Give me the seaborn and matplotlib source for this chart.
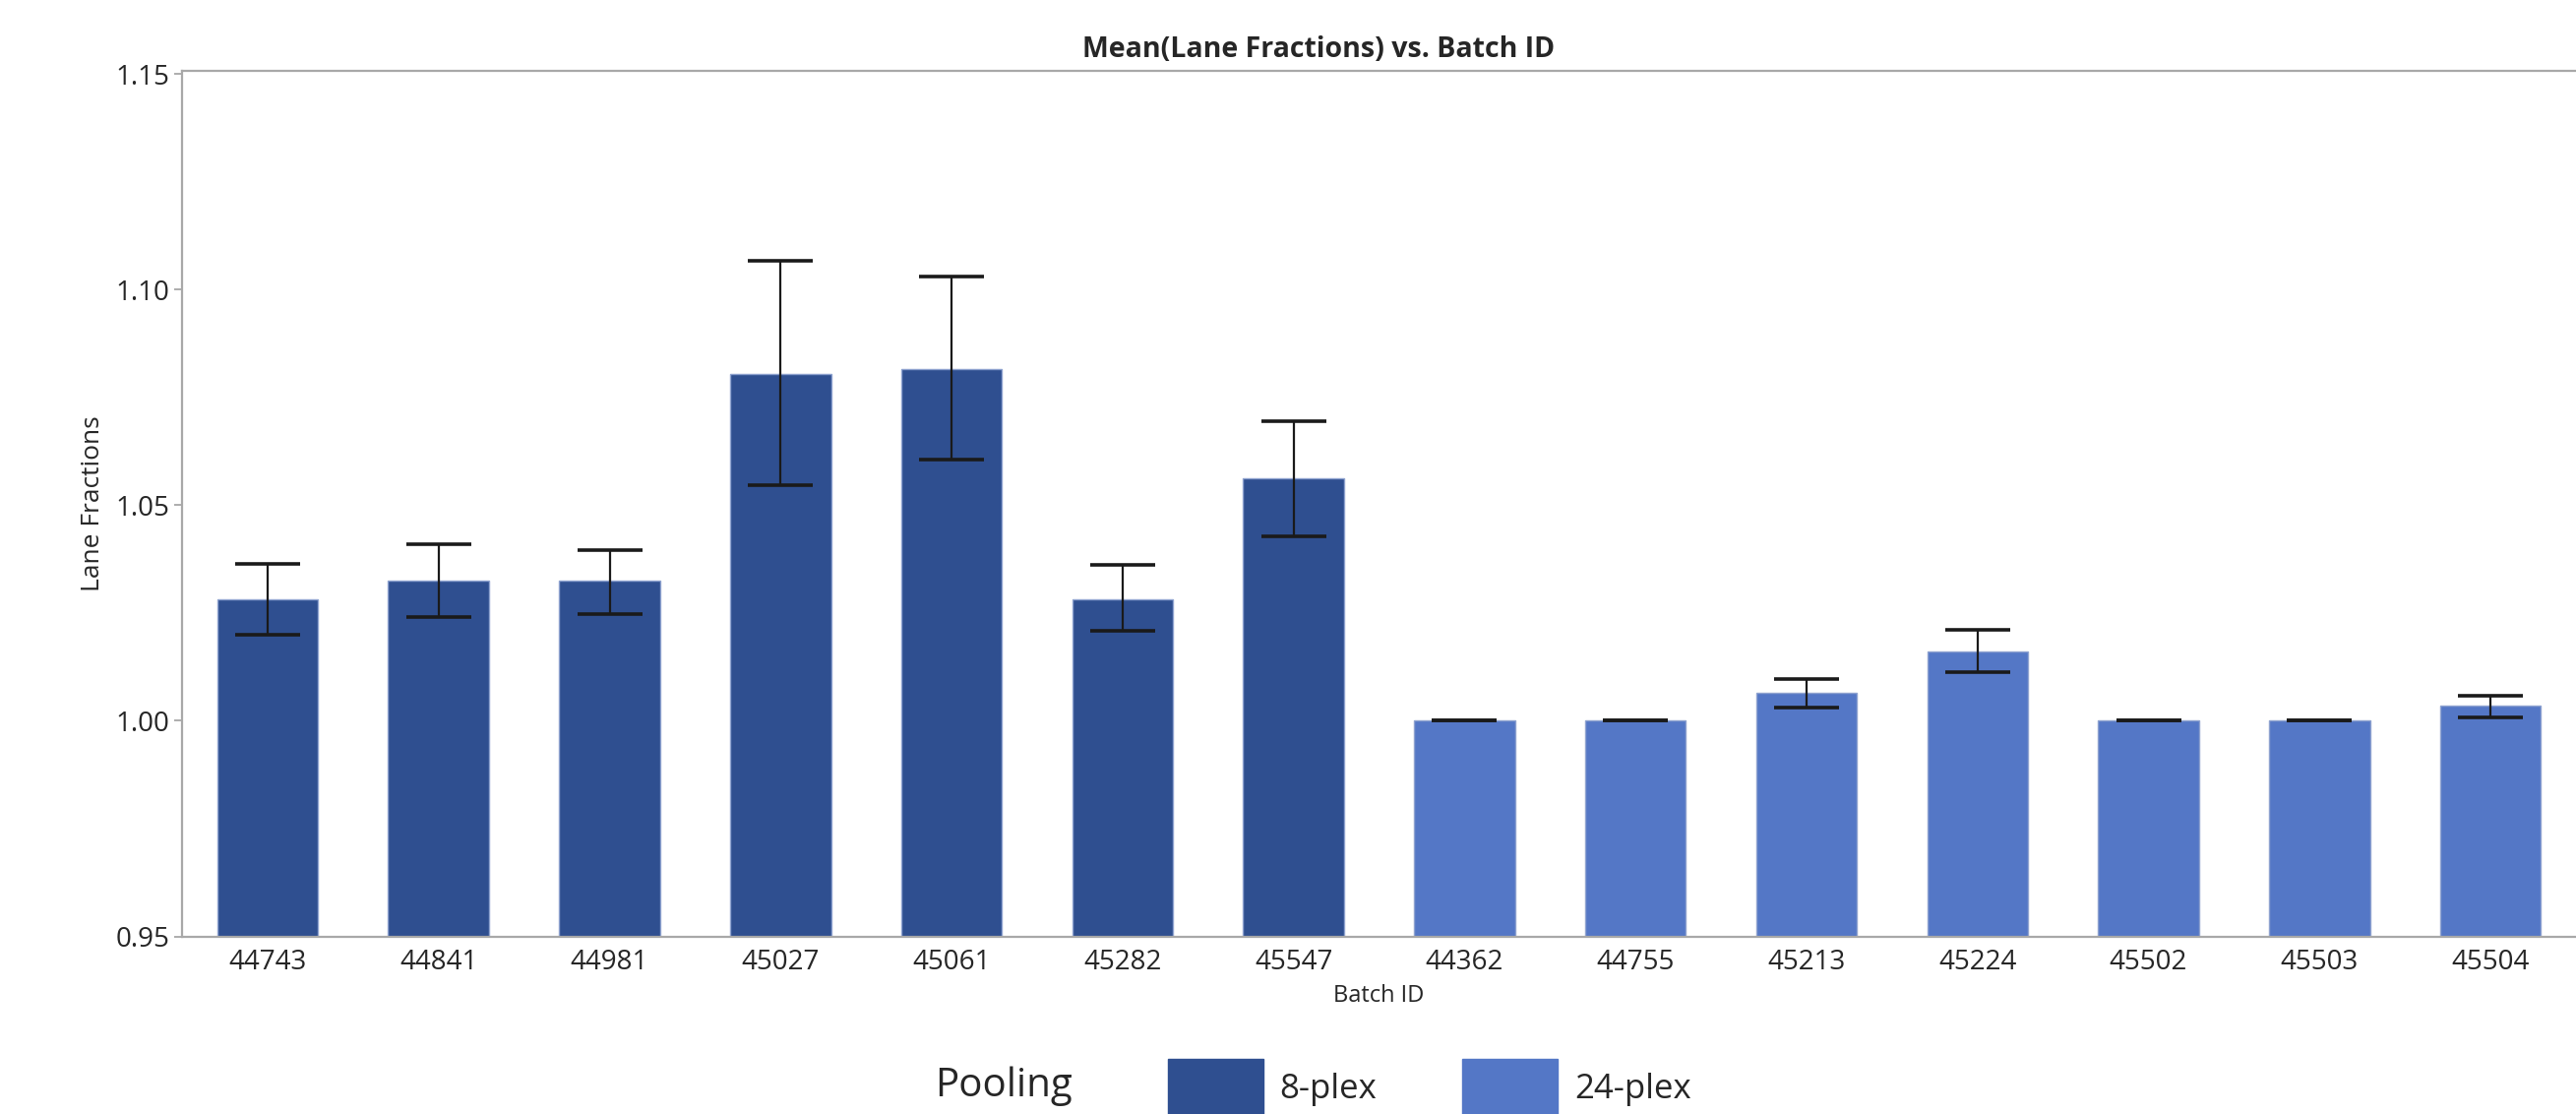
import numpy as np
import pandas as pd
import matplotlib
matplotlib.use("Agg")
import matplotlib.pyplot as plt
import matplotlib.patches as mpatches
import seaborn as sns

# values
batch_ids = ["44743", "44841", "44981", "45027", "45061", "45282", "45547",
             "44362", "44755", "45213", "45224", "45502", "45503", "45504"]
pooling = ["8-plex"] * 7 + ["24-plex"] * 7
mean_frac = [1.0281, 1.0325, 1.0325, 1.0805, 1.0815, 1.0281, 1.0562,
             1.0000, 1.0000, 1.0066, 1.0160, 1.0000, 1.0000, 1.0035]
err_low = [1.0200, 1.0240, 1.0247, 1.0547, 1.0606, 1.0208, 1.0427,
           1.0000, 1.0000, 1.0030, 1.0113, 1.0000, 1.0000, 1.0007]
err_high = [1.0365, 1.0410, 1.0396, 1.1068, 1.1030, 1.0362, 1.0695,
            1.0000, 1.0000, 1.0098, 1.0210, 1.0000, 1.0000, 1.0058]

pool_levels = ["8-plex", "24-plex"]
pool_colors = {"8-plex": "#2F4F90", "24-plex": "#5477C6"}

df = pd.DataFrame({"Batch ID": batch_ids, "Pooling": pooling, "Lane Fractions": mean_frac})

sns.set_theme(style="white")
plt.rcParams["font.family"] = ["Open Sans", "DejaVu Sans"]

fig = plt.figure(figsize=(26.18, 11.32), dpi=100)
ax = fig.add_axes([0.0707, 0.1594, 0.9293, 0.7772])

sns.barplot(data=df, x="Batch ID", y="Lane Fractions", hue="Pooling",
            hue_order=pool_levels, palette=pool_colors, dodge=False,
            width=0.59, errorbar=None, legend=False, saturation=1,
            edgecolor="#8fa3d0", linewidth=1, ax=ax)

x = np.arange(len(batch_ids))
mean_arr = np.array(mean_frac)
yerr = [mean_arr - np.array(err_low), np.array(err_high) - mean_arr]
ax.errorbar(x, mean_arr, yerr=yerr, fmt="none", ecolor="#1a1a1a",
            elinewidth=1.6, capsize=24, capthick=2.6, zorder=5)

ax.set_xlim(-0.5, len(batch_ids) - 0.5)
ax.set_ylim(0.95, 1.1508)
ax.set_yticks([0.95, 1.00, 1.05, 1.10, 1.15])
ax.set_yticklabels(["0.95", "1.00", "1.05", "1.10", "1.15"])
ax.tick_params(axis="y", direction="out", length=6, width=1.2, color="#a0a0a0",
               labelsize=20, pad=3, left=True)
ax.tick_params(axis="x", length=0, labelsize=20, pad=9)

for side in ["left", "bottom", "top"]:
    ax.spines[side].set_color("#a8a8a8")
    ax.spines[side].set_linewidth(1.6)
ax.spines["right"].set_visible(False)

ax.set_xlabel("Batch ID", fontsize=17)
ax.xaxis.set_label_coords(0.5, -0.055)
ax.set_ylabel("Lane Fractions", fontsize=19, va="center")
ax.yaxis.set_label_coords(-0.0374, 0.5)

fig.text(0.512, 0.955, "Mean(Lane Fractions) vs. Batch ID", ha="center",
         va="center", fontsize=20.5, fontweight="bold")

# legend along the bottom
handles = [mpatches.Patch(color=pool_colors[p], label=p) for p in pool_levels]
fig.text(0.363, 0.025, "Pooling", ha="left", va="center", fontsize=29)
fig.legend(handles=handles, loc="center left", bbox_to_anchor=(0.4534, 0.024),
           ncol=2, frameon=False, fontsize=25, handlelength=2.8,
           handleheight=2.2, handletextpad=0.47, columnspacing=2.5, borderpad=0,
           borderaxespad=0)

fig.savefig("out.png", dpi=100)
